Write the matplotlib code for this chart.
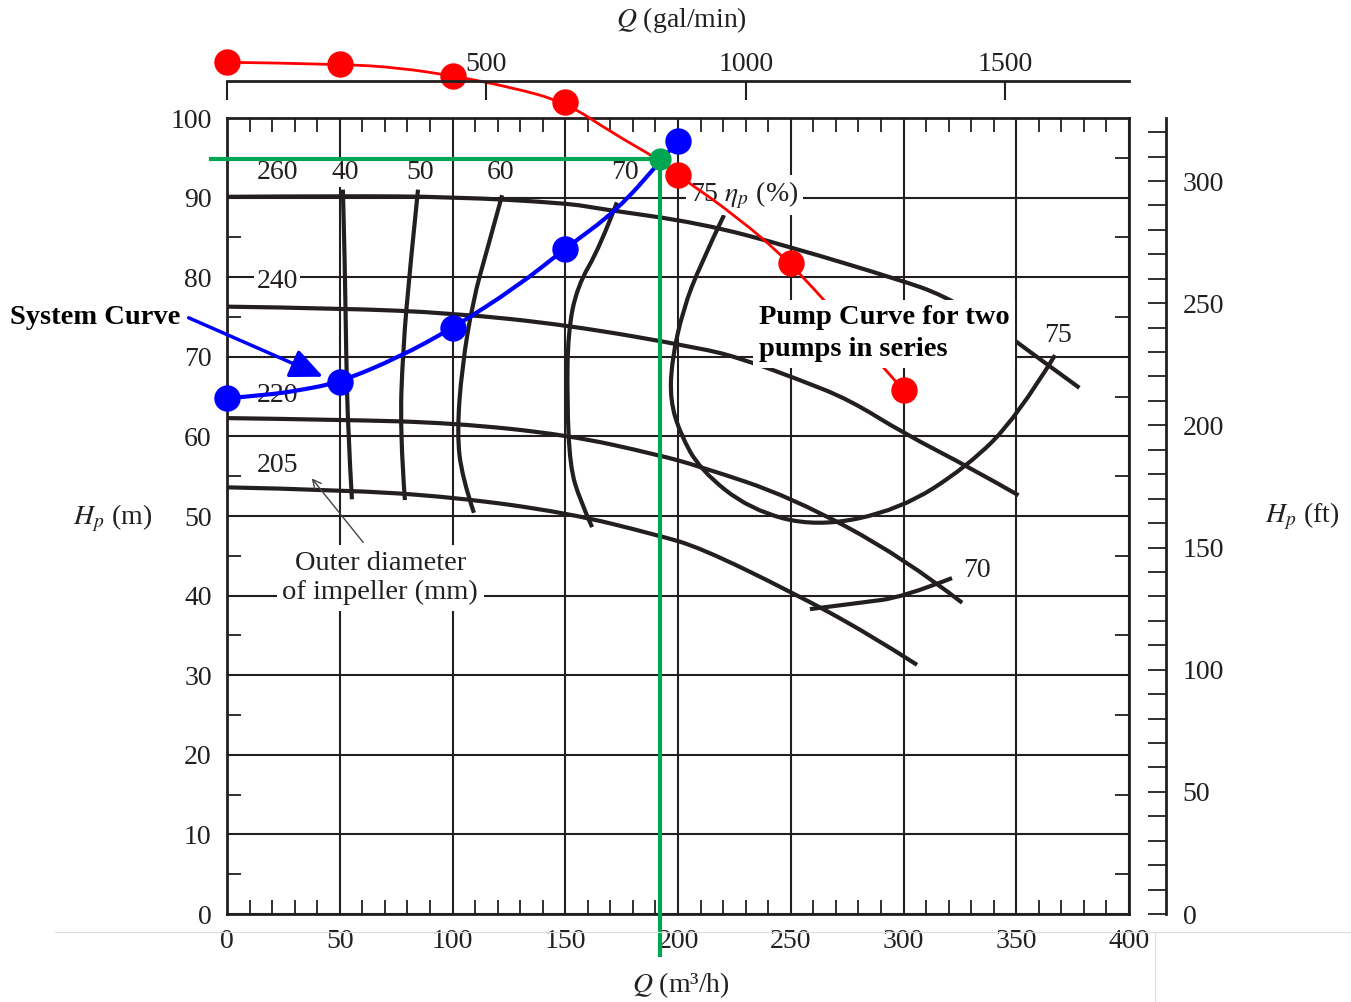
import numpy as np
import matplotlib
matplotlib.use("Agg")
from matplotlib import pyplot as plt
from matplotlib.ticker import MultipleLocator
from matplotlib.lines import Line2D
from matplotlib.path import Path
from matplotlib.patches import PathPatch

plt.rcParams['font.family'] = ['Liberation Serif', 'DejaVu Serif']
plt.rcParams['mathtext.fontset'] = 'stix'

# pump head curves for each impeller diameter (Q in m3/h, H in m)
d260_q = [0, 50, 100, 151, 165, 210, 250, 299, 317, 340, 360, 378]
d260_h = [90.1, 90.2, 90.1, 89.3, 88.6, 86.8, 83.8, 79.6, 77.8, 74.0, 69.8, 66.1]
d240_q = [0, 50, 100, 151, 210, 228, 254, 276, 300, 330, 351]
d240_h = [76.3, 76.1, 75.5, 74.0, 71.1, 69.8, 67.1, 64.6, 60.4, 56.0, 52.6]
d220_q = [0, 50, 100, 151, 191, 210, 250, 300, 326]
d220_h = [62.3, 62.1, 61.7, 60.2, 57.7, 56.2, 52.4, 44.8, 39.1]
d205_q = [0, 50, 100, 151, 191, 210, 250, 284, 306]
d205_h = [53.6, 53.3, 52.4, 50.4, 47.6, 46.0, 40.5, 35.3, 31.3]

# efficiency contours
e40_q = [51.4, 52.3, 52.8, 53.7, 55.4]
e40_h = [91.0, 81.3, 70.9, 60.4, 52.1]
e50_q = [84.7, 81.2, 78.0, 76.7, 78.9]
e50_h = [91.0, 81.3, 70.9, 60.4, 52.0]
e60_q = [122.0, 115.3, 109.1, 104.2, 102.0, 104.2, 109.5]
e60_h = [90.3, 83.4, 77.1, 68.7, 60.4, 54.9, 50.4]
e70_q = [172.9, 165.4, 155.2, 151.2, 150.8, 152.1, 156.5, 161.9]
e70_h = [89.4, 83.8, 78.8, 73.0, 64.6, 56.2, 52.0, 48.6]
e70b_q = [258.5, 280.7, 299.8, 321.5]
e70b_h = [38.3, 39.1, 39.8, 42.2]
e75_q = [220.4, 209.8, 202.2, 197.3, 196.5, 200.9, 209.8, 231.9, 261.6, 298.4, 328.2, 350.3, 367.2]
e75_h = [87.8, 81.5, 75.9, 69.6, 64.6, 60.4, 55.8, 50.8, 48.6, 50.8, 56.2, 62.4, 70.2]

# pump curve for two pumps in series
pump_q = [0, 50, 100, 150, 200, 250, 300]
pump_h = [107.0, 106.8, 105.3, 102.0, 92.8, 81.8, 65.8]
pump_line_q = [0, 50, 76.7, 100, 125.5, 150, 171, 192, 200, 225.3, 250, 277, 300]
pump_line_h = [107.0, 106.8, 106.3, 105.3, 103.9, 102.0, 98.1, 94.7, 92.8, 87.8, 81.8, 73.2, 65.8]

# system curve
sys_q = [0, 50, 100, 150, 200]
sys_h = [64.8, 66.8, 73.6, 83.6, 97.1]
sys_line_q = [0, 17.7, 32.4, 50, 76.7, 100, 128.6, 150, 173, 192, 200]
sys_line_h = [64.8, 65.2, 65.8, 66.8, 70.0, 73.6, 78.8, 83.6, 88.4, 94.5, 97.1]

# operating point
op_q = 191.8
op_h = 94.8


def smooth_line(ax, q, h, **kw):
    # quadratic bezier path: read points act as control points
    pts = list(zip(q, h))
    verts = [pts[0]]
    codes = [Path.MOVETO]
    for i in range(1, len(pts) - 1):
        nxt = pts[i + 1] if i < len(pts) - 2 else pts[-1]
        mid = nxt if i == len(pts) - 2 else ((pts[i][0] + nxt[0]) / 2, (pts[i][1] + nxt[1]) / 2)
        verts += [pts[i], mid]
        codes += [Path.CURVE3, Path.CURVE3]
    if len(pts) == 2:
        verts.append(pts[1])
        codes.append(Path.LINETO)
    patch = PathPatch(Path(verts, codes), fill=False, **kw)
    ax.add_patch(patch)
    return patch


fig = plt.figure(figsize=(13.51, 10.02), dpi=100)
W, Hh = 1351.0, 1002.0
ax = fig.add_axes([227 / W, 88 / Hh, 902 / W, 796 / Hh])
ax.set_xlim(0, 400)
ax.set_ylim(0, 100)

ink = '#231f20'
ax.set_xticks(np.arange(0, 401, 50))
ax.set_yticks(np.arange(0, 101, 10))
ax.xaxis.set_minor_locator(MultipleLocator(10))
ax.yaxis.set_minor_locator(MultipleLocator(5))
ax.grid(True, which='major', color=ink, lw=1.5)
ax.set_axisbelow(True)
ax.tick_params(which='major', length=0, labelsize=20, pad=11, colors=ink)
ax.tick_params(which='minor', direction='in', top=True, right=True, length=10, width=1.3, color=ink)
for s in ax.spines.values():
    s.set_linewidth(2)
    s.set_color(ink)

# black curves
for qq, hh in [(d260_q, d260_h), (d240_q, d240_h), (d220_q, d220_h), (d205_q, d205_h),
               (e40_q, e40_h), (e50_q, e50_h), (e60_q, e60_h), (e70_q, e70_h),
               (e70b_q, e70b_h), (e75_q, e75_h)]:
    smooth_line(ax, qq, hh, edgecolor=ink, lw=3.0, zorder=2, capstyle='butt')

# labels on the chart (white boxes break the grid)
wb = dict(facecolor='white', edgecolor='none', pad=1.5)
for txt, q, h in [('260', 22.2, 93.1), ('40', 52.3, 93.1), ('50', 85.6, 93.1), ('60', 121.1, 93.1),
                  ('70', 176.5, 93.1), ('240', 22.2, 79.4), ('205', 22.2, 56.4)]:
    ax.text(q, h, txt, fontsize=20, ha='center', va='center', color=ink, bbox=wb, zorder=3)
ax.text(22.2, 65.2, '220', fontsize=20, ha='center', va='center', color=ink, zorder=3)
ax.text(332.5, 43.1, '70', fontsize=20, ha='center', va='center', color=ink, zorder=3)
ax.text(368.5, 72.7, '75', fontsize=20, ha='center', va='center', color=ink, zorder=3)
ax.text(229.5, 90.3, r'75 $\eta_p$ (%)', fontsize=20, ha='center', va='center', color=ink,
        bbox=dict(facecolor='white', edgecolor='none', pad=3), zorder=3)
ax.text(68, 42.2, 'Outer diameter\nof impeller (mm)', fontsize=20.5, ha='center', va='center',
        color=ink, linespacing=1.2, bbox=dict(facecolor='white', edgecolor='none', pad=4), zorder=3)
ax.annotate('', xy=(36.8, 55.0), xytext=(61.2, 46.4),
            arrowprops=dict(arrowstyle='->', color='#444444', lw=1, mutation_scale=15), zorder=3)

# pump curve (red) and system curve (blue)
smooth_line(ax, pump_line_q, pump_line_h, edgecolor='red', lw=2, zorder=4, clip_on=False)
ax.plot(pump_q, pump_h, 'o', color='red', ms=18, zorder=4, clip_on=False)
smooth_line(ax, sys_line_q, sys_line_h, edgecolor='blue', lw=3, zorder=4)
ax.plot(sys_q, sys_h, 'o', color='blue', ms=18, zorder=4, clip_on=False)

# operating point lines
green = '#00a651'
ax.plot([-7, op_q], [op_h, op_h], color=green, lw=3, zorder=5, clip_on=False)
ax.plot([op_q, op_q], [op_h, -5.2], color=green, lw=3, zorder=5, clip_on=False)
ax.plot([op_q], [op_h], 'o', color=green, ms=15, zorder=6, clip_on=False)

ax.text(236, 72.9, 'Pump Curve for two\npumps in series', fontsize=20.5, fontweight='bold',
        ha='left', va='center', linespacing=1.35,
        bbox=dict(facecolor='white', edgecolor='none', pad=4), zorder=5)
ax.text(-58.5, 75.0, 'System Curve', fontsize=20.5, fontweight='bold', ha='center', va='center')
ax.annotate('', xy=(42.6, 67.5), xytext=(-17, 74.9), annotation_clip=False,
            arrowprops=dict(arrowstyle='-|>,head_length=1.0,head_width=0.45', color='blue',
                            lw=2.5, mutation_scale=20, shrinkA=0, shrinkB=0), zorder=4)

# top axis in gal/min
axt = fig.add_axes([227 / W, (1002 - 81) / Hh, 902 / W, 0.0001])
axt.set_xlim(0, 1738)
axt.set_yticks([])
for k in ['left', 'right', 'bottom']:
    axt.spines[k].set_visible(False)
axt.spines['top'].set_linewidth(2)
axt.spines['top'].set_color(ink)
axt.patch.set_visible(False)
axt.xaxis.tick_top()
axt.set_xticks([0, 500, 1000, 1500])
axt.set_xticklabels(['', '500', '1000', '1500'])
axt.tick_params(axis='x', direction='in', length=14, width=1.5, labelsize=20, pad=3, colors=ink)

# right axis in ft
axr = fig.add_axes([1150 / W, 88 / Hh, 16 / W, 796 / Hh])
axr.set_ylim(0, 325.8)
axr.set_xticks([])
for k in ['left', 'top', 'bottom']:
    axr.spines[k].set_visible(False)
axr.spines['right'].set_linewidth(2)
axr.spines['right'].set_color(ink)
axr.patch.set_visible(False)
axr.yaxis.tick_right()
axr.set_yticks(np.arange(0, 301, 50))
axr.yaxis.set_minor_locator(MultipleLocator(10))
axr.tick_params(axis='y', which='both', direction='in', length=13, width=1.3, labelsize=20, pad=12, colors=ink)

# axis titles
fig.text(113 / W, 1 - 518 / Hh, r'$H_p$ (m)', fontsize=20, ha='center', va='center', color=ink)
fig.text(1302 / W, 1 - 516 / Hh, r'$H_p$ (ft)', fontsize=20, ha='center', va='center', color=ink)
fig.text(681 / W, 1 - 985 / Hh, r'$Q$ (m³/h)', fontsize=20, ha='center', va='center', color=ink)
fig.text(681 / W, 1 - 20 / Hh, r'$Q$ (gal/min)', fontsize=20, ha='center', va='center', color=ink)

# thin frame lines of the original screenshot
fig.add_artist(Line2D([55 / W, 1], [1 - 932 / Hh, 1 - 932 / Hh], color='#dddddd', lw=0.8))
fig.add_artist(Line2D([1155 / W, 1155 / W], [0, 1 - 932 / Hh], color='#dddddd', lw=0.8))

fig.savefig('out.png', dpi=100)
